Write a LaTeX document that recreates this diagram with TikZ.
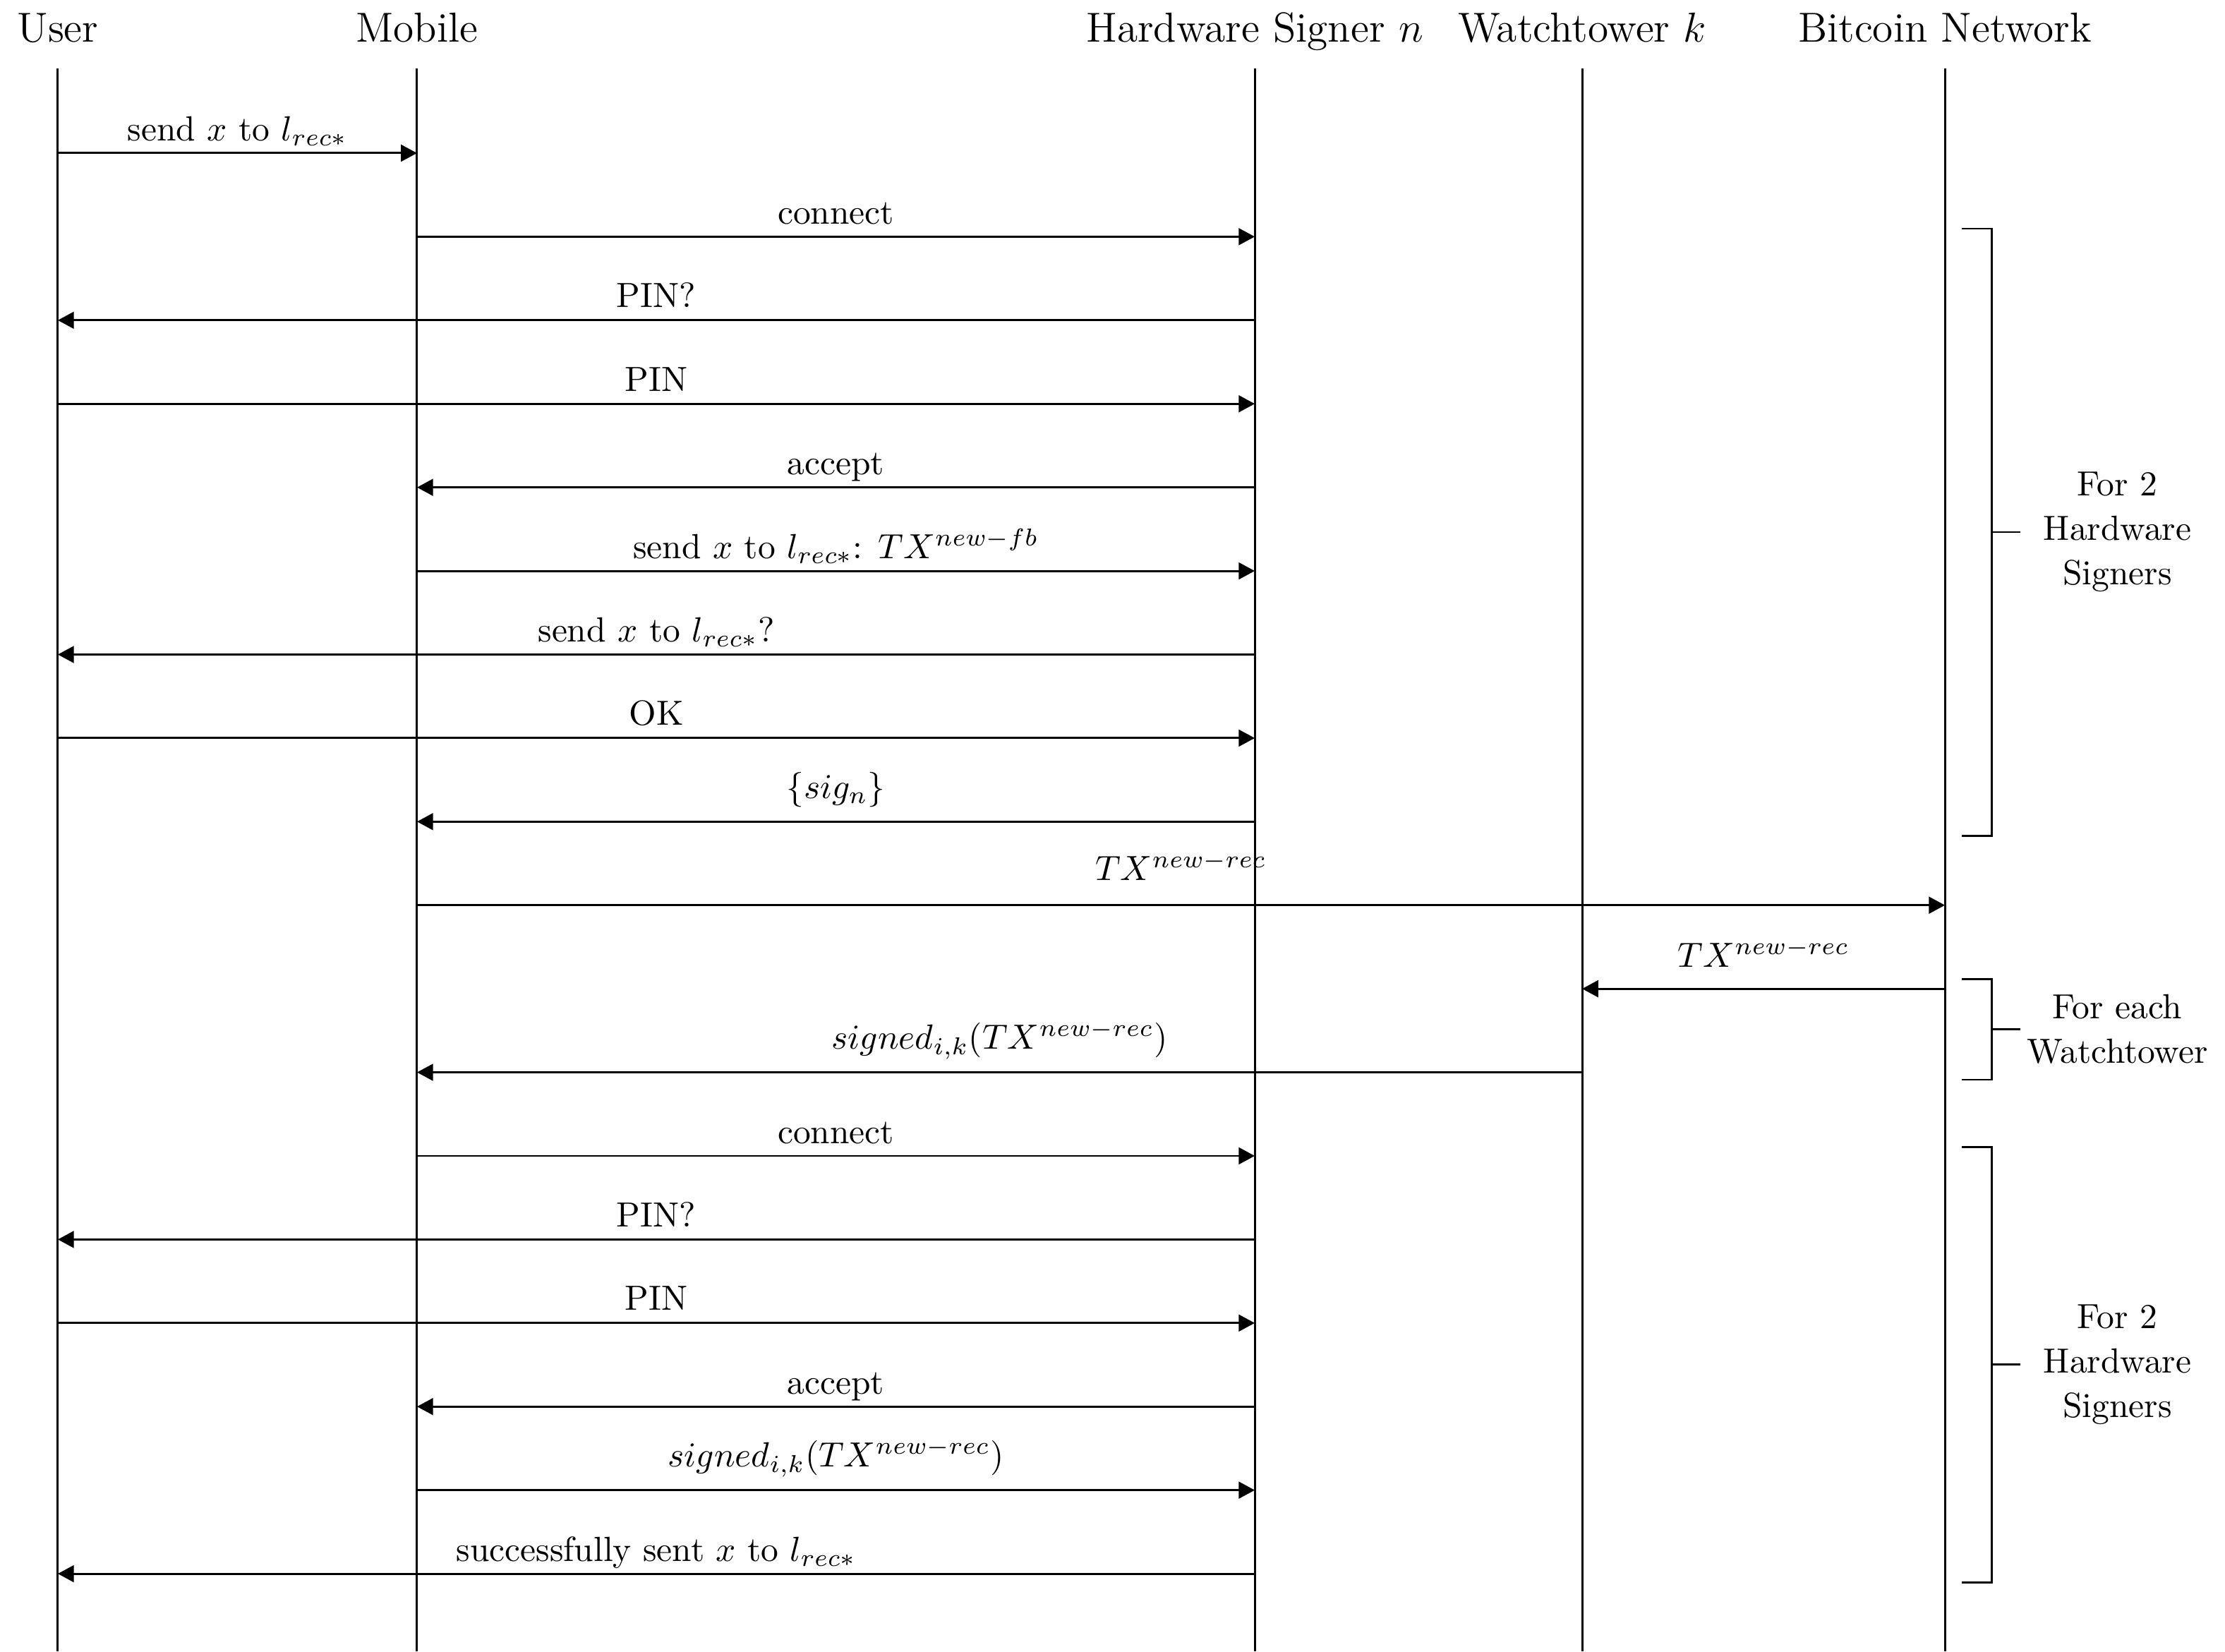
\documentclass[tikz,border=0pt]{standalone}
\usepackage{amsmath,amssymb}
\usepackage{xcolor}
\usepackage{tikz}
\usetikzlibrary{calc,arrows.meta}
\definecolor{line}{HTML}{000000}
\newcommand{\Msg}[5][]{%
  \draw[-{Triangle[length=4.6pt,width=4.8pt]},color=line] (#2 |- 0,#4) -- (#3 |- 0,#4)
    node[midway,above,text depth=0pt,color=line,#1] {#5};
}
\newcommand{\Loop}[4]{%
  \draw[color=line] (19.744,#2) -- (20.043,#2) -- (20.043,#3) -- (19.744,#3);
  \draw[color=line] (20.043,{(#2+#3)/2}) -- (20.334,{(#2+#3)/2});
  \node[align=center,font=\linespread{1.06}\selectfont,color=line] (#1) at (21.31,{(#2+#3)/2}) {#4};
}

\begin{document}
\begin{tikzpicture}[line width=0.6pt]
  \useasboundingbox (0,0) rectangle (22.393,-16.619);
  % participants
  \node[anchor=base,font=\large] (user) at (0.582,-0.426) {User};
  \node[anchor=base,font=\large] (mobile) at (4.197,-0.426) {Mobile};
  \node[anchor=base,font=\large] (signer) at (12.628,-0.426) {Hardware Signer $n$};
  \node[anchor=base,font=\large] (tower) at (15.923,-0.426) {Watchtower $k$};
  \node[anchor=base,font=\large] (network) at (19.574,-0.426) {Bitcoin Network};
  \coordinate (U) at (0.582,-0.689);
  \coordinate (M) at (4.197,-0.689);
  \coordinate (S) at (12.628,-0.689);
  \coordinate (W) at (15.923,-0.689);
  \coordinate (B) at (19.574,-0.689);
  \draw[color=line] (U) -- (U |- 0,-16.619);
  \draw[color=line] (M) -- (M |- 0,-16.619);
  \draw[color=line] (S) -- (S |- 0,-16.619);
  \draw[color=line] (W) -- (W |- 0,-16.619);
  \draw[color=line] (B) -- (B |- 0,-16.619);
  % messages
  \Msg{U}{M}{-1.541}{send $x$ to $l_{rec*}$}
  \Msg{M}{S}{-2.382}{connect}
  \Msg{S}{U}{-3.223}{PIN?}
  \Msg{U}{S}{-4.064}{PIN}
  \Msg{S}{M}{-4.905}{accept}
  \Msg{M}{S}{-5.746}{send $x$ to $l_{rec*}$: $TX^{new-fb}$}
  \Msg{S}{U}{-6.587}{send $x$ to $l_{rec*}$?}
  \Msg{U}{S}{-7.428}{OK}
  \Msg[yshift=3pt]{S}{M}{-8.269}{$\{sig_n\}$}
  \Msg[yshift=3.5pt]{M}{B}{-9.110}{$TX^{new-rec}$}
  \Msg[yshift=2.5pt]{B}{W}{-9.951}{$TX^{new-rec}$}
  \Msg[yshift=3pt]{W}{M}{-10.792}{$signed_{i,k}(TX^{new-rec})$}
  \Msg{M}{S}{-11.633}{connect}
  \Msg{S}{U}{-12.474}{PIN?}
  \Msg{U}{S}{-13.315}{PIN}
  \Msg{S}{M}{-14.156}{accept}
  \Msg[yshift=3pt]{M}{S}{-14.997}{$signed_{i,k}(TX^{new-rec})$}
  \Msg{S}{U}{-15.838}{successfully sent $x$ to $l_{rec*}$}
  % loops
  \Loop{signers1}{-2.301}{-8.409}{For 2\\Hardware\\Signers}
  \Loop{towers}{-9.851}{-10.866}{For each\\Watchtower}
  \Loop{signers2}{-11.541}{-15.923}{For 2\\Hardware\\Signers}
\end{tikzpicture}
\end{document}
